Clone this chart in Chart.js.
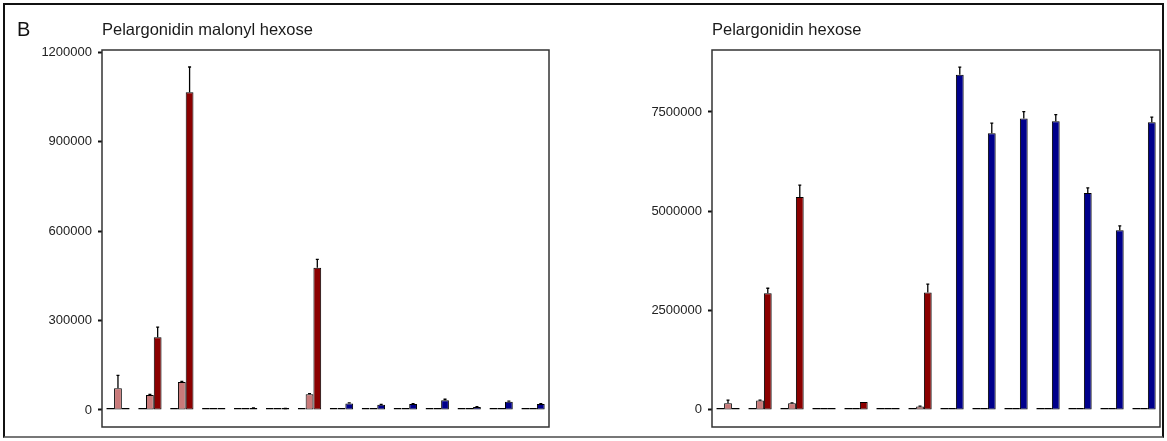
<!DOCTYPE html>
<html>
<head>
<meta charset="utf-8">
<script src="https://cdn.jsdelivr.net/npm/chart.js@4.4.1/dist/chart.umd.min.js"></script>
<style>
  html, body { margin: 0; padding: 0; background: #fff; }
  #page { position: relative; width: 1167px; height: 441px; overflow: hidden; }
  .panel { position: absolute; top: 0; height: 441px; }
  #frame {
    position: absolute; left: 3px; top: 3px; width: 1161px; height: 435px;
    box-sizing: border-box; border: 2px solid #111; border-bottom-color: #777;
    pointer-events: none;
  }
  #tag {
    position: absolute; left: 17px; top: 19px; font: 20px "Liberation Sans", Arial, sans-serif;
    line-height: 20px; color: #111;
  }
</style>
</head>
<body>
<div id="page">
  <div class="panel" style="left:0;width:580px"><canvas id="left"></canvas></div>
  <div class="panel" style="left:580px;width:587px"><canvas id="right"></canvas></div>
  <div id="frame"></div>
  <div id="tag">B</div>
</div>
<script>
// 14 sample groups, 3 bars each (no x labels in the figure)
const categories = ['1', '2', '3', '4', '5', '6', '7', '8', '9', '10', '11', '12', '13', '14'];

// Pelargonidin malonyl hexose
const malonylTitle = 'Pelargonidin malonyl hexose';
const malonylA = [1000, 2000, 1000, 500, 1000, 1500, 1000, 500, 500, 500, 500, 500, 500, 500];
const malonylB = [73000, 50000, 94000, 500, 2000, 2000, 53000, 1000, 500, 500, 1000, 500, 500, 500];
const malonylC = [5000, 244000, 1065000, 1000, 6000, 4000, 477000, 22000, 18000, 20000, 33000, 10000, 28000, 20000];
const malonylErrB = [43000, 2000, 2000, 0, 0, 0, 2000, 0, 0, 0, 0, 0, 0, 0];
const malonylErrC = [0, 34000, 85000, 0, 1000, 1000, 28000, 2000, 1000, 1500, 3000, 1000, 2000, 1000];
const malonylTicks = [0, 300000, 600000, 900000, 1200000];

// Pelargonidin hexose
const hexoseTitle = 'Pelargonidin hexose';
const hexoseA = [5000, 5000, 10000, 2000, 2000, 2000, 5000, 10000, 40000, 5000, 5000, 10000, 5000, 5000];
const hexoseB = [168000, 235000, 168000, 3000, 5000, 3000, 84000, 30000, 5000, 8000, 5000, 20000, 5000, 8000];
const hexoseC = [10000, 2937000, 5362000, 3000, 201000, 3000, 2954000, 8434000, 6966000, 7334000, 7268000, 5463000, 4523000, 7243000];
const hexoseErrB = [76000, 10000, 10000, 0, 0, 0, 10000, 0, 0, 0, 0, 0, 0, 0];
const hexoseErrC = [0, 126000, 295000, 0, 0, 0, 210000, 194000, 252000, 176000, 167000, 126000, 109000, 126000];
const hexoseTicks = [0, 2500000, 5000000, 7500000];

const FONT = '"Liberation Sans", Arial, sans-serif';
const GREY = '#8c8c8c';
const PINK = '#c97a7a';
const DARKRED = '#8b0000';
const NAVY = '#00008b';
const LIGHTBLUE = '#7a7ac9';

// first 7 groups red family, last 7 blue family
const colB = categories.map((c, i) => (i < 7 ? PINK : LIGHTBLUE));
const colC = categories.map((c, i) => (i < 7 ? DARKRED : NAVY));

// whisker only above the bar, with a tiny cap
const errorBars = {
  id: 'errorBars',
  afterDatasetsDraw(chart) {
    const { ctx } = chart;
    const y = chart.scales.y;
    ctx.save();
    ctx.strokeStyle = '#000';
    ctx.lineWidth = 1.3;
    chart.data.datasets.forEach((ds, di) => {
      if (!ds.errors) return;
      chart.getDatasetMeta(di).data.forEach((bar, i) => {
        const e = ds.errors[i];
        if (!e) return;
        const top = y.getPixelForValue(ds.data[i] + e);
        ctx.beginPath();
        ctx.moveTo(bar.x, bar.y);
        ctx.lineTo(bar.x, top);
        ctx.moveTo(bar.x - 1.5, top);
        ctx.lineTo(bar.x + 1.5, top);
        ctx.stroke();
      });
    });
    ctx.restore();
  },
};

// box round the panel + title at its left edge
const panelDeco = {
  id: 'panelDeco',
  afterDraw(chart, args, opts) {
    const { ctx, chartArea: a } = chart;
    ctx.save();
    ctx.strokeStyle = '#333';
    ctx.lineWidth = 1.5;
    ctx.strokeRect(a.left, a.top, a.right - a.left, a.bottom - a.top);
    ctx.fillStyle = '#1a1a1a';
    ctx.font = '16.5px ' + FONT;
    ctx.textBaseline = 'alphabetic';
    ctx.fillText(opts.text, a.left, 35);
    ctx.restore();
  },
};

function makePanel(canvas, title, a, b, c, errB, errC, ticks, yMin, yMax, axisWidth, padRight) {
  const barStyle = { borderColor: '#000', borderWidth: 1, borderSkipped: false, minBarLength: 2,
    categoryPercentage: 0.73, barPercentage: 1 };
  return new Chart(canvas, {
    type: 'bar',
    data: {
      labels: categories,
      datasets: [
        { data: a, backgroundColor: GREY, ...barStyle },
        { data: b, backgroundColor: colB, errors: errB, ...barStyle },
        { data: c, backgroundColor: colC, errors: errC, ...barStyle },
      ],
    },
    options: {
      responsive: true,
      maintainAspectRatio: false,
      animation: false,
      layout: { padding: { left: 0, right: padRight, top: 50, bottom: 14 } },
      scales: {
        x: { display: false, offset: true },
        y: {
          min: yMin,
          max: yMax,
          afterBuildTicks: (s) => { s.ticks = ticks.map(v => ({ value: v })); },
          afterFit: (s) => { s.width = axisWidth; },
          border: { display: false },
          grid: { drawOnChartArea: false, drawTicks: true, tickLength: 4, tickWidth: 2, tickColor: '#111' },
          ticks: {
            color: '#222',
            padding: 6,
            font: { family: FONT, size: 13 },
            callback: (v) => String(v),
          },
        },
      },
      plugins: {
        legend: { display: false },
        tooltip: { enabled: false },
        panelDeco: { text: title },
      },
    },
    plugins: [errorBars, panelDeco],
  });
}

makePanel(document.getElementById('left'), malonylTitle, malonylA, malonylB, malonylC,
  malonylErrB, malonylErrC, malonylTicks, -57000, 1207000, 102, 31);
makePanel(document.getElementById('right'), hexoseTitle, hexoseA, hexoseB, hexoseC,
  hexoseErrB, hexoseErrC, hexoseTicks, -430000, 9060000, 132, 7);
</script>
</body>
</html>
